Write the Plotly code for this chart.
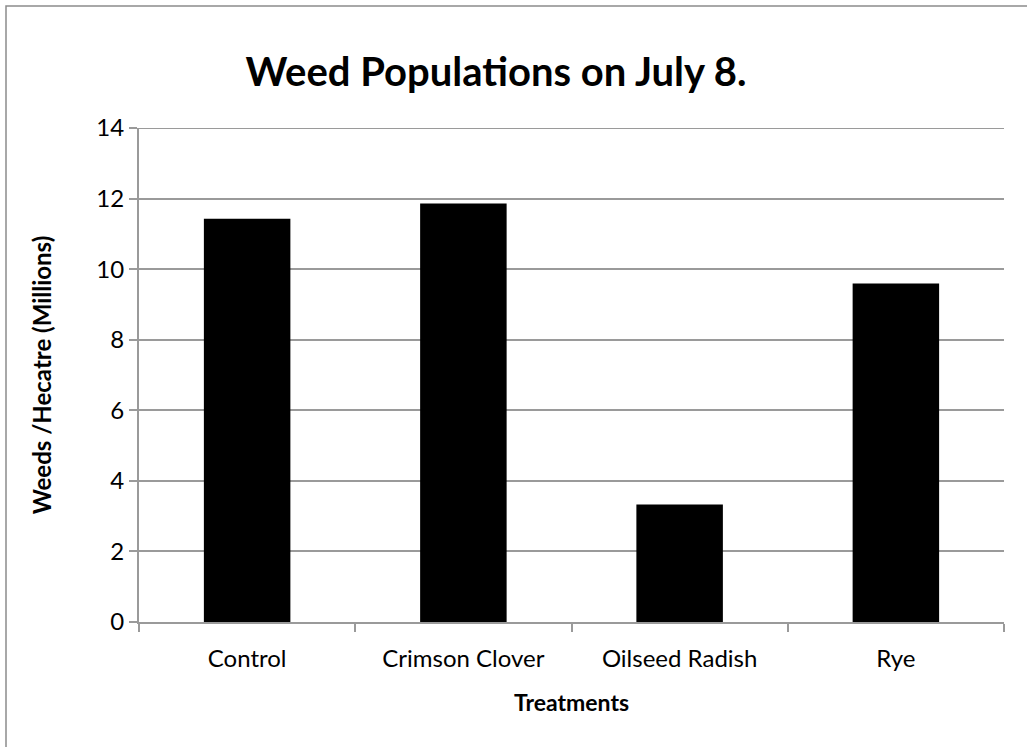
import plotly.graph_objects as go

categories = ["Control", "Crimson Clover", "Oilseed Radish", "Rye"]
weeds_millions = [11.43, 11.86, 3.33, 9.59]
y_ticks = [0, 2, 4, 6, 8, 10, 12, 14]

W, H = 1027, 747
ML, MR, MT, MB = 139, 23, 128, 125
PW, PH = W - ML - MR, H - MT - MB

def px_x(px):
    return (px - ML) / PW

def px_y(py):
    return (H - MB - py) / PH

FONT = "Lato, 'Open Sans', sans-serif"
GRID = "#9a9a9a"

fig = go.Figure(
    go.Bar(
        x=categories,
        y=weeds_millions,
        marker=dict(color="#000000", line=dict(width=0)),
        width=0.4,
    )
)

fig.update_layout(
    width=W,
    height=H,
    margin=dict(l=ML, r=MR, t=MT, b=MB),
    paper_bgcolor="white",
    plot_bgcolor="white",
    showlegend=False,
    font=dict(family=FONT, color="#000000"),
    title=dict(
        text="<b>Weed Populations on July 8.</b>",
        font=dict(family=FONT, size=40, color="#000000"),
        xref="paper",
        x=px_x(496),
        xanchor="center",
        yref="container",
        y=1 - 72 / H,
        yanchor="middle",
    ),
    xaxis=dict(
        title=dict(text="<b>Treatments</b>", font=dict(size=23), standoff=24),
        tickfont=dict(size=24),
        ticklabelstandoff=14,
        showline=True,
        linecolor=GRID,
        linewidth=2,
        ticks="outside",
        ticklen=8,
        tickwidth=2,
        tickcolor=GRID,
        tickson="boundaries",
        showgrid=False,
        range=[-0.5, 3.5],
    ),
    yaxis=dict(
        title=dict(text="<b>Weeds /Hecatre (Millions)</b>", font=dict(size=24), standoff=38),
        tickfont=dict(size=24),
        range=[0, 14],
        tickvals=y_ticks,
        showline=True,
        linecolor=GRID,
        linewidth=2,
        ticks="outside",
        ticklen=8,
        tickwidth=2,
        tickcolor=GRID,
        showgrid=True,
        gridcolor=GRID,
        gridwidth=2,
        zeroline=False,
    ),
    shapes=[
        dict(
            type="line",
            xref="paper",
            yref="y",
            x0=0,
            x1=1,
            y0=y_ticks[-1],
            y1=y_ticks[-1],
            line=dict(color=GRID, width=2),
            layer="below",
        ),
        dict(
            type="rect",
            xref="paper",
            yref="paper",
            x0=px_x(6),
            x1=px_x(1040),
            y0=px_y(760),
            y1=px_y(6),
            line=dict(color="#8c8c8c", width=1.5),
            fillcolor="rgba(0,0,0,0)",
            layer="below",
        ),
    ],
)

fig.write_html("out.html")
